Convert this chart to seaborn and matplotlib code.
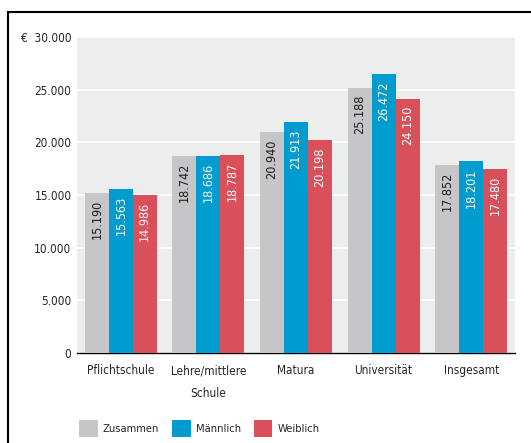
import matplotlib
matplotlib.use("Agg")
import matplotlib.pyplot as plt
from matplotlib.patches import Rectangle
from matplotlib import font_manager
import seaborn as sns
import pandas as pd

categories = ["Pflichtschule", "Lehre/mittlere\nSchule", "Matura", "Universität", "Insgesamt"]
series = ["Zusammen", "Männlich", "Weiblich"]
zusammen = [15190, 18742, 20940, 25188, 17852]
maennlich = [15563, 18686, 21913, 26472, 18201]
weiblich = [14986, 18787, 20198, 24150, 17480]
ytick_vals = [0, 5000, 10000, 15000, 20000, 25000, 30000]
ytick_labels = ["0", "5.000", "10.000", "15.000", "20.000", "25.000", "€  30.000"]
colors = ["#c6c6c8", "#009ccf", "#d9505a"]
label_colors = ["#1a1a1a", "white", "white"]

sns.set_style("white")
names = {f.name for f in font_manager.fontManager.ttflist}
fam = ["Liberation Sans Narrow"] if "Liberation Sans Narrow" in names else []
plt.rcParams["font.family"] = fam + ["DejaVu Sans"]
plt.rcParams["font.stretch"] = "condensed"

rows = []
for s, vals in zip(series, [zusammen, maennlich, weiblich]):
    for c, v in zip(categories, vals):
        rows.append({"cat": c, "series": s, "value": v})
df = pd.DataFrame(rows)

fig = plt.figure(figsize=(5.31, 4.43), dpi=100)
ax = fig.add_axes([77/531, 1 - 353/443, (515-77)/531, (353-37)/443])
ax.set_facecolor("#eceeed")

sns.barplot(data=df, x="cat", y="value", hue="series", palette=colors,
            width=0.82, ax=ax, saturation=1, legend=True, zorder=3,
            linewidth=0, edgecolor="none")

ax.set_ylim(0, 30000)
ax.set_xlim(-0.5, 4.5)
ax.set_yticks(ytick_vals)
ax.set_yticklabels(ytick_labels, fontsize=8.5)
ax.yaxis.grid(True, color="white", linewidth=1.2, zorder=0)
ax.set_axisbelow(True)
ax.tick_params(axis="y", length=0, pad=4)
ax.tick_params(axis="x", length=0, pad=8, labelsize=8.5)
ax.set_xticks(range(len(categories)))
ax.set_xticklabels(categories, linespacing=2.0)
ax.set_xticks([i - 0.5 for i in range(len(categories) + 1)], minor=True)
ax.tick_params(axis="x", which="minor", direction="in", length=5, width=1, color="black")
ax.set_xlabel("")
ax.set_ylabel("")
for side in ["top", "right", "left"]:
    ax.spines[side].set_visible(False)
ax.spines["bottom"].set_color("black")
ax.spines["bottom"].set_linewidth(1)

for cont, lc in zip(ax.containers, label_colors):
    for bar in cont:
        h = bar.get_height()
        ax.annotate(f"{h:,.0f}".replace(",", "."),
                    (bar.get_x() + bar.get_width() / 2, h),
                    xytext=(0, -5), textcoords="offset points",
                    rotation=90, ha="center", va="top",
                    color=lc, fontsize=9, zorder=4)

leg = ax.legend(loc="upper left", bbox_to_anchor=(0.005, -0.212), ncol=3,
                frameon=False, fontsize=8, handlelength=1.65, handleheight=2.0,
                columnspacing=1.2, handletextpad=0.45, borderpad=0, borderaxespad=0)

fig.patches.append(Rectangle((8/531, -0.1), 1.2, 1 - 12/443 + 0.1,
                             transform=fig.transFigure, fill=False,
                             edgecolor="black", linewidth=1.5))

fig.savefig("out.png", dpi=100)
